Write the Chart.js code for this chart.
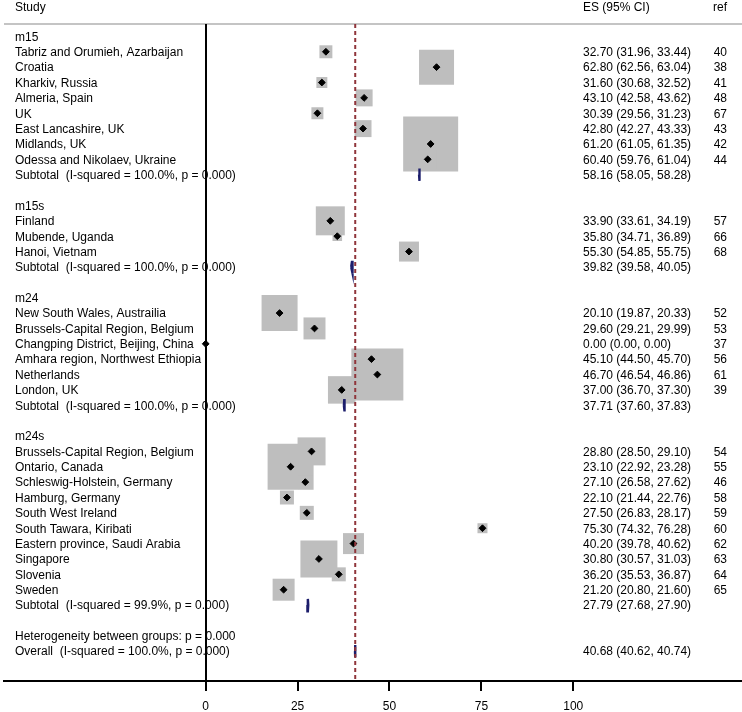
<!DOCTYPE html>
<html>
<head>
<meta charset="utf-8">
<script src="https://cdn.jsdelivr.net/npm/chart.js@4.4.1/dist/chart.umd.min.js"></script>
<style>
    body { margin: 0; background: #ffffff; }
    #wrap { width: 742px; height: 712px; position: relative; }
</style>
</head>
<body>
<div id="wrap"><canvas id="forestPlot"></canvas></div>
<script>
// one entry per row of the plot, top to bottom
const rowLabels = [
    'm15',
    'Tabriz and Orumieh, Azarbaijan',
    'Croatia',
    'Kharkiv, Russia',
    'Almeria, Spain',
    'UK',
    'East Lancashire, UK',
    'Midlands, UK',
    'Odessa and Nikolaev, Ukraine',
    'Subtotal  (I-squared = 100.0%, p = 0.000)',
    '',
    'm15s',
    'Finland',
    'Mubende, Uganda',
    'Hanoi, Vietnam',
    'Subtotal  (I-squared = 100.0%, p = 0.000)',
    '',
    'm24',
    'New South Wales, Austrailia',
    'Brussels-Capital Region, Belgium',
    'Changping District, Beijing, China',
    'Amhara region, Northwest Ethiopia',
    'Netherlands',
    'London, UK',
    'Subtotal  (I-squared = 100.0%, p = 0.000)',
    '',
    'm24s',
    'Brussels-Capital Region, Belgium',
    'Ontario, Canada',
    'Schleswig-Holstein, Germany',
    'Hamburg, Germany',
    'South West Ireland',
    'South Tawara, Kiribati',
    'Eastern province, Saudi Arabia',
    'Singapore',
    'Slovenia',
    'Sweden',
    'Subtotal  (I-squared = 99.9%, p = 0.000)',
    '',
    'Heterogeneity between groups: p = 0.000',
    'Overall  (I-squared = 100.0%, p = 0.000)'
];

// S = study, T = subtotal / overall, anything else = text only
const rowKind = [
    '-', 'S', 'S', 'S', 'S', 'S', 'S', 'S', 'S', 'T',
    '-', '-', 'S', 'S', 'S', 'T',
    '-', '-', 'S', 'S', 'S', 'S', 'S', 'S', 'T',
    '-', '-', 'S', 'S', 'S', 'S', 'S', 'S', 'S', 'S', 'S', 'S', 'T',
    '-', '-', 'T'
];

const es = [
    null, 32.70, 62.80, 31.60, 43.10, 30.39, 42.80, 61.20, 60.40, 58.16,
    null, null, 33.90, 35.80, 55.30, 39.82,
    null, null, 20.10, 29.60, 0.00, 45.10, 46.70, 37.00, 37.71,
    null, null, 28.80, 23.10, 27.10, 22.10, 27.50, 75.30, 40.20, 30.80, 36.20, 21.20, 27.79,
    null, null, 40.68
];
const ciLow = [
    null, 31.96, 62.56, 30.68, 42.58, 29.56, 42.27, 61.05, 59.76, 58.05,
    null, null, 33.61, 34.71, 54.85, 39.58,
    null, null, 19.87, 29.21, 0.00, 44.50, 46.54, 36.70, 37.60,
    null, null, 28.50, 22.92, 26.58, 21.44, 26.83, 74.32, 39.78, 30.57, 35.53, 20.80, 27.68,
    null, null, 40.62
];
const ciHigh = [
    null, 33.44, 63.04, 32.52, 43.62, 31.23, 43.33, 61.35, 61.04, 58.28,
    null, null, 34.19, 36.89, 55.75, 40.05,
    null, null, 20.33, 29.99, 0.00, 45.70, 46.86, 37.30, 37.83,
    null, null, 29.10, 23.28, 27.62, 22.76, 28.17, 76.28, 40.62, 31.03, 36.87, 21.60, 27.90,
    null, null, 40.74
];
const refs = [
    '', '40', '38', '41', '48', '67', '43', '42', '44', '',
    '', '', '57', '66', '68', '',
    '', '', '52', '53', '37', '56', '61', '39', '',
    '', '', '54', '55', '46', '58', '59', '60', '62', '63', '64', '65', '',
    '', '', ''
];
// study weights (%), estimated from the size of the grey boxes
const weights = [
    null, 0.42, 3.06, 0.30, 0.72, 0.36, 0.72, 7.56, 0.81, null,
    null, null, 2.10, 0.23, 1.00, null,
    null, null, 3.24, 1.21, 0, 0.64, 6.76, 1.89, null,
    null, null, 1.96, 5.29, 0.49, 0.49, 0.49, 0.25, 1.10, 3.42, 0.49, 1.21, null,
    null, null, null
];

const xTicks = [0, 25, 50, 75, 100];

const fontFamily = '"Liberation Sans", Arial, Helvetica, sans-serif';
const yMin = -0.807;
const yMax = 41.94;

function esText(i){
    return es[i].toFixed(2) + ' (' + ciLow[i].toFixed(2) + ', ' + ciHigh[i].toFixed(2) + ')';
}

// boxes and point estimates
var boxPoints = [];
var boxSizes = [];
var dotPoints = [];
for(let i = 0; i < rowLabels.length; i++){
    if(rowKind[i] == 'S'){
        dotPoints.push({x: es[i], y: i});
        if(weights[i] > 0){
            boxPoints.push({x: es[i], y: i});
            // side of the square grows with sqrt(weight), chart.js rect side = sqrt(2) * radius
            boxSizes.push(20 * Math.sqrt(weights[i]) / Math.SQRT2);
        }
    }
}

var datasets = [];
datasets.push({
    label: 'boxes',
    data: boxPoints,
    pointStyle: 'rect',
    pointRadius: boxSizes,
    backgroundColor: '#bebebe',
    borderWidth: 0,
    order: 4
});
datasets.push({
    label: 'estimates',
    data: dotPoints,
    pointStyle: 'rectRot',
    pointRadius: 3.4,
    backgroundColor: '#000000',
    borderColor: '#000000',
    borderWidth: 1,
    order: 2
});

// pooled diamonds
for(let i = 0; i < rowLabels.length; i++){
    if(rowKind[i] == 'T'){
        datasets.push({
            label: 'pooled ' + i,
            data: [
                {x: ciLow[i], y: i},
                {x: es[i], y: i - 0.4},
                {x: ciHigh[i], y: i},
                {x: es[i], y: i + 0.4},
                {x: ciLow[i], y: i}
            ],
            showLine: true,
            fill: 'shape',
            backgroundColor: '#1c1d6b',
            borderColor: '#1c1d6b',
            borderWidth: 2.4,
            pointRadius: 0,
            order: 3
        });
    }
}

// overall effect line
datasets.push({
    label: 'overall',
    data: [{x: es[40], y: yMin}, {x: es[40], y: yMax}],
    showLine: true,
    borderColor: '#90353b',
    borderWidth: 2,
    borderDash: [4, 3],
    pointRadius: 0,
    order: 1
});

const tablePlugin = {
    id: 'tablePlugin',
    beforeDraw(chart){
        const ctx = chart.ctx;
        const yScale = chart.scales.y;
        ctx.save();
        ctx.font = '12px ' + fontFamily;
        ctx.fillStyle = '#000000';
        ctx.textBaseline = 'alphabetic';

        // header
        ctx.textAlign = 'left';
        ctx.fillText('Study', 15, 11);
        ctx.fillText('ES (95% CI)', 583, 11);
        ctx.textAlign = 'right';
        ctx.fillText('ref', 727, 11);

        ctx.strokeStyle = '#c4c4c4';
        ctx.lineWidth = 2;
        ctx.beginPath();
        ctx.moveTo(4, chart.chartArea.top);
        ctx.lineTo(742, chart.chartArea.top);
        ctx.stroke();

        for(let i = 0; i < rowLabels.length; i++){
            const y = yScale.getPixelForValue(i) + 4.3;
            ctx.textAlign = 'left';
            ctx.fillText(rowLabels[i], 15, y);
            if(es[i] != null){
                ctx.fillText(esText(i), 583, y);
            }
            ctx.textAlign = 'right';
            ctx.fillText(refs[i], 727, y);
        }
        ctx.restore();
    }
};

const forestConfig = {
    type: 'scatter',
    data: { datasets: datasets },
    options: {
        responsive: true,
        maintainAspectRatio: false,
        animation: false,
        events: [],
        layout: {
            autoPadding: false,
            padding: { left: 4, right: 0, top: 24, bottom: 0 }
        },
        plugins: {
            legend: { display: false },
            tooltip: { enabled: false }
        },
        scales: {
            x: {
                type: 'linear',
                min: -54.87,
                max: 145.9,
                afterBuildTicks: function(axis){
                    axis.ticks = xTicks.map(v => ({ value: v }));
                },
                afterFit: function(axis){
                    axis.height = 31;
                },
                ticks: {
                    color: '#000000',
                    padding: 8,
                    maxRotation: 0,
                    font: { size: 12, family: fontFamily }
                },
                grid: {
                    drawOnChartArea: true,
                    color: (c) => (c.tick && c.tick.value === 0) ? '#000000' : 'rgba(0,0,0,0)',
                    tickColor: '#000000',
                    tickLength: 10,
                    lineWidth: 2
                },
                border: { display: true, color: '#000000', width: 2 }
            },
            y: {
                type: 'linear',
                display: false,
                reverse: true,
                min: yMin,
                max: yMax
            }
        }
    },
    plugins: [tablePlugin]
};

new Chart(document.getElementById('forestPlot'), forestConfig);
</script>
</body>
</html>
